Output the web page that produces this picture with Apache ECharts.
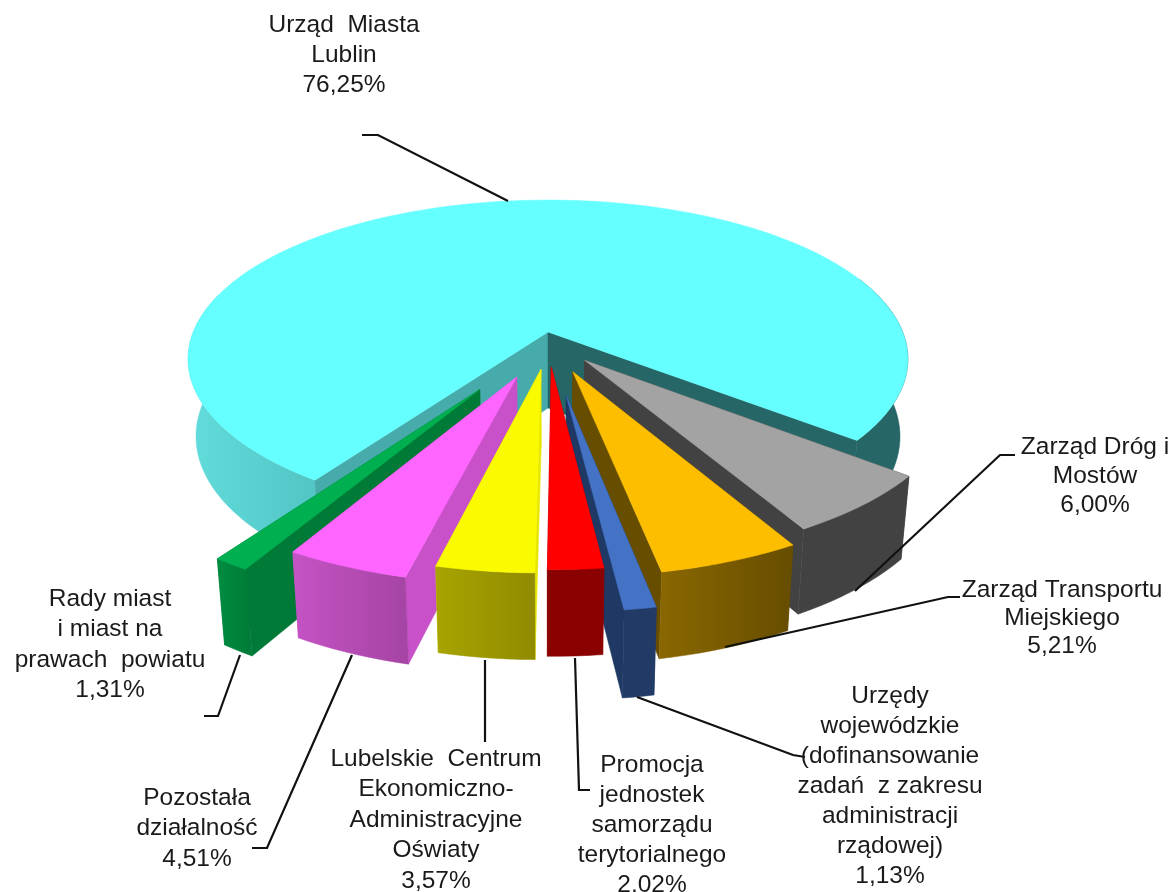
<!DOCTYPE html>
<html>
<head>
<meta charset="utf-8">
<title>Struktura wydatków</title>
<script src="https://cdn.jsdelivr.net/npm/echarts@6/dist/echarts.min.js"></script>
<style>
  html, body { margin: 0; padding: 0; background: #fff; }
  #chart { width: 1169px; height: 892px; }
</style>
</head>
<body>
<div id="chart"></div>
<script>
// dane, kolejnosc zgodnie z ruchem wskazowek zegara
var names = [
    'Urząd  Miasta\nLublin',
    'Zarząd Dróg i\nMostów',
    'Zarząd Transportu\nMiejskiego',
    'Urzędy\nwojewódzkie\n(dofinansowanie\nzadań  z zakresu\nadministracji\nrządowej)',
    'Promocja\njednostek\nsamorządu\nterytorialnego',
    'Lubelskie  Centrum\nEkonomiczno-\nAdministracyjne\nOświaty',
    'Pozostała\ndziałalność',
    'Rady miast\ni miast na\nprawach  powiatu'
];
var shares = [76.25, 6.00, 5.21, 1.13, 2.02, 3.57, 4.51, 1.31];

// wyglad plastrow
var explodeX = [0, 0.1, 0.067, 0.048, 0.009, -0.019, -0.084, -0.181];
var explodeY = [0, 0.178, 0.247, 0.385, 0.22, 0.233, 0.278, 0.35];
var drawOrder = [0, 1, 2, 3, 4, 7, 6, 5];
var topColors = ['#66ffff', '#a3a3a3', '#fdbe00', '#4472c4', '#ff0000', '#fafa00', '#ff66ff', '#00b050'];
var wallColors = ['#47abab', '#424242', '#664d00', '#1f3864', '#990000', '#e6e600', '#c850c8', '#007a37'];
var rimColors = [
    ['#62dcdc', '#52c4c4'], ['#424242', '#424242'], ['#8a6700', '#664d00'], ['#223a66', '#223a66'],
    ['#8b0000', '#8b0000'], ['#a8a400', '#908b00'], ['#c553c4', '#a544a4'], ['#008c41', '#007a37']
];
var labelX = [344, 1095, 1062, 890, 652, 436, 197, 110];
var labelY = [25, 447, 590, 696, 765, 759, 798, 599];
var labelLine = [30, 29, 28, 30, 30, 30.5, 30.5, 30.5];
var leaders = [
    [[362, 135], [378, 135], [508, 201]],
    [[855, 591], [1000, 455], [1015, 455]],
    [[725, 647], [948, 597], [960, 597]],
    [[637, 697], [793, 755], [805, 757]],
    [[575, 658], [579, 790], [590, 790]],
    [[485, 660], [485, 742]],
    [[352, 655], [267, 848], [252, 848]],
    [[240, 655], [218, 716], [204, 716]]
];

// rzut perspektywiczny kola na ekran
var CX = 548, CY = 332, RX = 354.7, RY = 154.4, K = 0.17, DEPTH = 76;
var LOW_X = 0.978, LOW_GROW = 0.115;
var START_ANGLE = 38.9;

function project(u, v, low) {
    var s = 1 / (1 - K * v);
    if (low) {
        return [CX + RX * u * s * LOW_X, CY + RY * v * s + DEPTH * (1 + LOW_GROW * v)];
    }
    return [CX + RX * u * s, CY + RY * v * s];
}

function arcPoints(a0, a1, ox, oy, low) {
    var pts = [];
    var steps = Math.max(2, Math.ceil(Math.abs(a1 - a0) / 2));
    for (var i = 0; i <= steps; i++) {
        var a = (a0 + (a1 - a0) * i / steps) * Math.PI / 180;
        pts.push(project(Math.cos(a) + ox, Math.sin(a) + oy, low));
    }
    return pts;
}

function poly(points, fill, z) {
    return { type: 'polygon', shape: { points: points }, style: { fill: fill, stroke: fill, lineWidth: 0.5 }, z2: z };
}

function hGradient(c) {
    return new echarts.graphic.LinearGradient(0, 0, 1, 0, [{ offset: 0, color: c[0] }, { offset: 1, color: c[1] }]);
}

function rim(a0, a1, ox, oy, fill, z) {
    return poly(arcPoints(a0, a1, ox, oy, false).concat(arcPoints(a1, a0, ox, oy, true)), fill, z);
}

function wall(a, ox, oy, fill, z) {
    var r = a * Math.PI / 180;
    var ex = Math.cos(r) + ox, ey = Math.sin(r) + oy;
    return poly([project(ox, oy), project(ex, ey), project(ex, ey, true), project(ox, oy, true)], fill, z);
}

// katy plastrow liczone z udzialow: Urzad Miasta konczy sie na START_ANGLE, reszta dalej w prawo
var sliceAngles = [];
(function () {
    var a = START_ANGLE - shares[0] * 3.6;
    for (var i = 0; i < shares.length; i++) {
        sliceAngles.push([a, a + shares[i] * 3.6]);
        a += shares[i] * 3.6;
    }
})();

function renderSlice(params, api) {
    var i = params.dataIndex;
    var a0 = sliceAngles[i][0], a1 = sliceAngles[i][1];
    var ox = explodeX[i], oy = explodeY[i];
    var z = drawOrder.indexOf(i) * 10;
    var children = [];

    if (i === 0) {
        // duzy plaster: widoczne dwie sciany srodkowe i dwa fragmenty obrzeza
        children.push(rim(a0, a0 + 70, 0, 0, hGradient(rimColors[0]), z));
        children.push(rim(a1 - 60, a1, 0, 0, '#266666', z));
        children.push(wall(a0, 0, 0, wallColors[0], z + 1));
        children.push(wall(a1, 0, 0, '#266666', z + 1));
    } else {
        children.push(wall(a0, ox, oy, wallColors[i], z));
        children.push(wall(a1, ox, oy, wallColors[i], z));
        children.push(rim(a0, a1, ox, oy, hGradient(rimColors[i]), z + 1));
    }
    var top = arcPoints(a0, a1, ox, oy, false);
    top.push(project(ox, oy));
    children.push(poly(top, topColors[i], z + 2));

    return { type: 'group', children: children };
}

function renderLabel(params, api) {
    var i = params.dataIndex;
    var percent = api.value(0).toFixed(2).replace('.', ',') + '%';
    return {
        type: 'group',
        children: [
            { type: 'polyline', shape: { points: leaders[i] }, style: { fill: null, stroke: '#111', lineWidth: 2.2 }, z2: 200 },
            {
                type: 'text',
                style: {
                    x: labelX[i],
                    y: labelY[i] - labelLine[i] / 2,
                    text: names[i] + '\n' + percent,
                    align: 'center',
                    verticalAlign: 'top',
                    font: '24.5px "Liberation Sans", Arial, sans-serif',
                    lineHeight: labelLine[i],
                    fill: '#1a1a1a'
                },
                z2: 201
            }
        ]
    };
}

var option = {
    animation: false,
    backgroundColor: '#fff',
    series: [
        { type: 'custom', coordinateSystem: 'none', silent: true, clip: false, data: shares, renderItem: renderSlice },
        { type: 'custom', coordinateSystem: 'none', silent: true, clip: false, z: 3, data: shares, renderItem: renderLabel }
    ]
};
var myChart = echarts.init(document.getElementById('chart'));
myChart.setOption(option);
</script>
</body>
</html>
